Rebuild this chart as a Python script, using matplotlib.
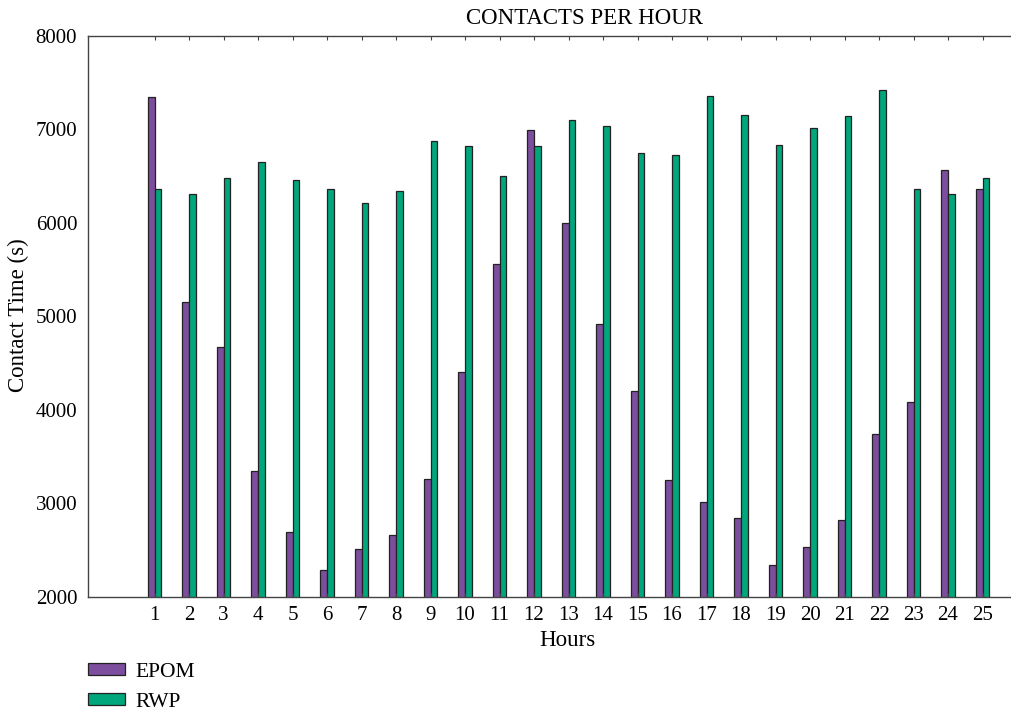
import matplotlib.pyplot as plt
import numpy as np

hours = list(range(1, 26))
epom = [7345, 5155, 4675, 3345, 2695, 2285, 2505, 2660, 3260, 4405,
        5560, 6995, 5995, 4915, 4205, 3250, 3015, 2840, 2340, 2530,
        2825, 3735, 4080, 6560, 6360]
rwp = [6365, 6305, 6478, 6650, 6458, 6358, 6215, 6340, 6870, 6820,
       6495, 6815, 7098, 7032, 6745, 6722, 7352, 7150, 6832, 7015,
       7142, 7420, 6365, 6305, 6478]

plt.rcParams["font.family"] = ["Liberation Serif", "DejaVu Serif"]
plt.rcParams["font.size"] = 15

purple = "#7D4E9E"
green = "#00A67C"
edge = "#222222"

fig = plt.figure(figsize=(10.11, 7.12), dpi=100)
W, H = 1011, 712
left, right, top, bottom = 88.3, 1016, 35.7, 596.7
ax = fig.add_axes([left / W, 1 - bottom / H, (right - left) / W, (bottom - top) / H])

x = np.array(hours)
w = 0.19
ax.bar(x - w / 2, epom, width=w, color=purple, edgecolor=edge, linewidth=0.9, label="EPOM")
ax.bar(x + w / 2, rwp, width=w, color=green, edgecolor=edge, linewidth=0.9, label="RWP")

ax.set_xlim(-0.92, 25.97)
ax.set_ylim(2000, 8000)
ax.set_xticks(hours)
ax.set_yticks(range(2000, 8001, 1000))
ax.tick_params(axis="x", direction="in", length=3, top=True, pad=7, color="#444444", labelsize=15)
ax.tick_params(axis="y", length=0, pad=8, labelsize=15)
for s in ax.spines.values():
    s.set_color("#444444")
    s.set_linewidth(1.0)

fig.text(585 / W, 1 - 18 / H, "CONTACTS PER HOUR", ha="center", va="center", fontsize=16.5)
fig.text(18 / W, 1 - 315 / H, "Contact Time (s)", ha="center", va="center", rotation=90, fontsize=16.5)
fig.text(567 / W, 1 - 640 / H, "Hours", ha="center", va="center", fontsize=16.5)

fig.legend(loc="upper left", bbox_to_anchor=(88 / W, 1 - 663 / H), frameon=False,
           borderpad=0, borderaxespad=0, handlelength=1.7, handleheight=0.5,
           labelspacing=0.5, fontsize=15.5, handletextpad=0.5)

fig.savefig("out.png", dpi=100)
